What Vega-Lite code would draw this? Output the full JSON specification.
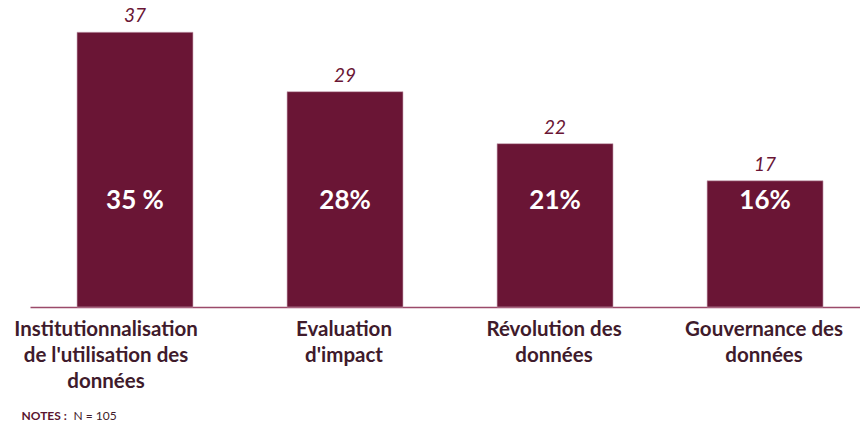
{
  "$schema": "https://vega.github.io/schema/vega-lite/v6.json",
  "width": 830,
  "height": 297,
  "autosize": {"type": "none"},
  "padding": {"left": 30, "top": 10, "right": 0, "bottom": 118},
  "background": "white",
  "config": {"view": {"stroke": null}, "font": "Lato"},
  "data": {
    "values": [
      {"theme": "Institutionnalisation\nde l'utilisation des\ndonnées", "n": 37, "pct": "35 %"},
      {"theme": "Evaluation\nd'impact", "n": 29, "pct": "28%"},
      {"theme": "Révolution des\ndonnées", "n": 22, "pct": "21%"},
      {"theme": "Gouvernance des\ndonnées", "n": 17, "pct": "16%"}
    ]
  },
  "encoding": {
    "x": {
      "field": "theme",
      "type": "nominal",
      "sort": null,
      "scale": {"paddingInner": 0.448, "paddingOuter": 0.2, "align": 0.56},
      "axis": {
        "labelExpr": "split(datum.value, '\\n')",
        "labelAngle": 0,
        "labelFont": "Lato",
        "labelFontSize": 20.5,
        "labelFontWeight": "bold",
        "labelColor": "#3f1b2c",
        "labelLineHeight": 26,
        "labelPadding": 12,
        "labelBaseline": "top",
        "labelLimit": 300,
        "labelOffset": {"condition": {"test": "datum.index == 0", "value": -29}, "value": -1},
        "ticks": false,
        "domainColor": "#9b4a6a",
        "domainWidth": 1.5,
        "title": "N = 105",
        "titleFont": "Lato",
        "titleFontSize": 12,
        "titleFontWeight": "normal",
        "titleColor": "#3f1b2c",
        "titleAnchor": "start",
        "titleAlign": "left",
        "titleBaseline": "alphabetic",
        "titleX": 43,
        "titleY": 112
      }
    }
  },
  "layer": [
    {
      "mark": {"type": "bar", "color": "#6a1535", "stroke": "#c7a3b3", "strokeWidth": 0.6},
      "encoding": {
        "y": {
          "field": "n",
          "type": "quantitative",
          "scale": {"domain": [0, 40]},
          "axis": {
            "domain": false,
            "ticks": false,
            "labels": false,
            "grid": false,
            "title": "NOTES :",
            "titleAngle": 0,
            "titleFont": "Lato",
            "titleFontSize": 12,
            "titleFontWeight": "bold",
            "titleColor": "#5a1530",
            "titleAlign": "left",
            "titleBaseline": "alphabetic",
            "titleX": -9,
            "titleY": 409
          }
        }
      }
    },
    {
      "mark": {"type": "text", "dy": -10, "baseline": "alphabetic", "fontStyle": "italic", "fontSize": 19, "color": "#6a1535"},
      "encoding": {
        "y": {"field": "n", "type": "quantitative"},
        "text": {"field": "n"}
      }
    },
    {
      "mark": {"type": "text", "fontWeight": "bold", "fontSize": 26, "color": "white", "baseline": "middle"},
      "encoding": {
        "y": {"datum": 14.3},
        "text": {"field": "pct"}
      }
    }
  ]
}
